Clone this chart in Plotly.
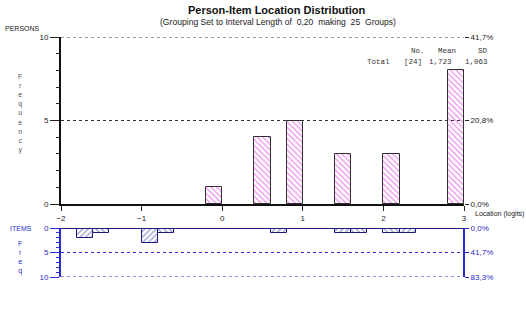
import plotly.graph_objects as go

W, H = 526, 313

# ---------------- data ----------------
person_centers = [-0.1, 0.5, 0.9, 1.5, 2.1, 2.9]
person_counts = [1, 4, 5, 3, 3, 8]

item_centers_a = [-1.7, -0.9, 0.7, 1.5, 2.3]
item_counts_a = [2, 3, 1, 1, 1]
item_centers_b = [-1.5, -0.7, 1.7, 2.1]
item_counts_b = [1, 1, 1, 1]

x_ticks = [-2, -1, 0, 1, 2, 3]
person_pct_vals = [0, 5, 10]
person_pct_text = ["0,0%", "20,8%", "41,7%"]
item_pct_vals = [0, 5, 10]
item_pct_text = ["0,0%", "41,7%", "83,3%"]

stats_header = ["No.", "Mean", "SD"]
stats_row = ["Total", "[24]", "1,723", "1,063"]

bar_width = 0.2


def px(x):
    return x / W


def py(y):
    return 1 - y / H


SANS = "Liberation Sans, Arial"
MONO = "Liberation Mono, Courier New, monospace"
BLUE = "#2a2ad0"
NAVY = "#1a1a80"

fig = go.Figure()

fig.add_trace(go.Bar(
    x=person_centers, y=person_counts, width=bar_width,
    xaxis="x", yaxis="y",
    marker=dict(color="white",
                line=dict(color="#303030", width=1),
                pattern=dict(shape="\\", fgcolor="#e030e0", bgcolor="white",
                             size=4, solidity=0.35)),
    showlegend=False, hoverinfo="skip",
))

fig.add_trace(go.Bar(
    x=item_centers_a, y=item_counts_a, width=bar_width,
    xaxis="x2", yaxis="y2",
    marker=dict(color="white",
                line=dict(color=NAVY, width=1),
                pattern=dict(shape="/", fgcolor="#4040a8", bgcolor="white",
                             size=4, solidity=0.35)),
    showlegend=False, hoverinfo="skip",
))
fig.add_trace(go.Bar(
    x=item_centers_b, y=item_counts_b, width=bar_width,
    xaxis="x2", yaxis="y2",
    marker=dict(color="white",
                line=dict(color=NAVY, width=1),
                pattern=dict(shape="\\", fgcolor="#4040a8", bgcolor="white",
                             size=4, solidity=0.35)),
    showlegend=False, hoverinfo="skip",
))

# invisible carriers so the right-hand percentage axes are drawn
fig.add_trace(go.Scatter(x=[-2], y=[0], xaxis="x", yaxis="y3", mode="markers",
                         marker=dict(opacity=0), showlegend=False, hoverinfo="skip"))
fig.add_trace(go.Scatter(x=[-2], y=[0], xaxis="x2", yaxis="y4", mode="markers",
                         marker=dict(opacity=0), showlegend=False, hoverinfo="skip"))

x_dom = [px(61), px(464)]
y1_dom = [py(204), py(37)]
y2_dom = [py(277), py(228)]

tickfont = dict(family=SANS, size=8, color="#222222")
bluefont = dict(family=SANS, size=8, color=BLUE)

fig.update_layout(
    width=W, height=H,
    margin=dict(l=0, r=0, t=0, b=0, autoexpand=False),
    paper_bgcolor="white", plot_bgcolor="white",
    bargap=0, barmode="overlay",
    xaxis=dict(domain=x_dom, range=[-2, 3], anchor="y", automargin=False,
               tickvals=x_ticks, ticks="outside", ticklen=5, tickcolor="#222",
               showline=True, linecolor="#111", linewidth=2,
               showgrid=False, zeroline=False, tickfont=tickfont),
    yaxis=dict(domain=y1_dom, range=[0, 10], anchor="x", automargin=False,
               tickvals=[0, 5, 10], ticks="outside", ticklen=9, tickcolor="#222",
               minor=dict(dtick=1, ticks="outside", ticklen=3, tickcolor="#222"),
               showline=True, linecolor="#111", linewidth=2,
               showgrid=False, zeroline=False, tickfont=tickfont),
    yaxis3=dict(domain=y1_dom, range=[0, 10], overlaying="y", side="right",
                anchor="free", position=x_dom[1], automargin=False,
                tickvals=person_pct_vals, ticktext=person_pct_text,
                ticks="outside", ticklen=4, tickcolor="#222",
                showline=False, showgrid=False, zeroline=False, tickfont=tickfont),
    xaxis2=dict(domain=x_dom, range=[-2, 3], anchor="y2", matches="x",
                automargin=False,
                showticklabels=False, ticks="", showline=False,
                showgrid=False, zeroline=False),
    yaxis2=dict(domain=y2_dom, range=[10, 0], anchor="x2", automargin=False,
                tickvals=[0, 5, 10], ticks="outside", ticklen=9, tickcolor=BLUE,
                minor=dict(dtick=1, ticks="outside", ticklen=3, tickcolor=BLUE),
                showline=True, linecolor=BLUE, linewidth=2,
                showgrid=False, zeroline=False, tickfont=bluefont),
    yaxis4=dict(domain=y2_dom, range=[10, 0], overlaying="y2", side="right",
                anchor="free", position=x_dom[1], automargin=False,
                tickvals=item_pct_vals, ticktext=item_pct_text,
                ticks="outside", ticklen=4, tickcolor=BLUE,
                showline=True, linecolor=BLUE, linewidth=2,
                showgrid=False, zeroline=False, tickfont=bluefont),
)

# dotted reference lines
for yv in [5, 10]:
    fig.add_shape(type="line", xref="x", yref="y", x0=-2, x1=3, y0=yv, y1=yv,
                  line=dict(color="#333", width=1, dash="dot"))
for yv in [5, 10]:
    fig.add_shape(type="line", xref="x2", yref="y2", x0=-2, x1=3, y0=yv, y1=yv,
                  line=dict(color=BLUE, width=1, dash="dot"))
# top line of items panel
fig.add_shape(type="line", xref="x2", yref="y2", x0=-2, x1=3, y0=0, y1=0,
              line=dict(color=NAVY, width=2))

ann = []


def add_text(x, y, text, size=9, color="#222", family=SANS, xanchor="left",
             yanchor="middle"):
    ann.append(dict(x=px(x), y=py(y), xref="paper", yref="paper", text=text,
                    showarrow=False, xanchor=xanchor, yanchor=yanchor,
                    font=dict(size=size, color=color, family=family)))


add_text(277, 10, "<b>Person-Item Location Distribution</b>", size=11,
         color="#111", xanchor="center")
add_text(278, 22, "(Grouping Set to Interval Length of  0,20  making  25  Groups)",
         size=8.6, color="#222", xanchor="center")
add_text(3, 28, "PERSONS", size=7, color="#222")
add_text(20, 113, "<br>".join(list("Frequency")), size=7, color="#555",
         xanchor="center")
add_text(473, 214, "Location (logits)", size=7, color="#222")
add_text(8, 228, "ITEMS", size=7, color=BLUE)
add_text(20, 257, "<br>".join(list("Freq")), size=7, color=BLUE,
         xanchor="center")

# stats table
hdr_x = [427, 458, 490]
for t, x in zip(stats_header, hdr_x):
    add_text(x, 51, t, size=7.5, family=MONO, color="#333", xanchor="right")
row_x = [392, 424, 454, 490]
for t, x in zip(stats_row, row_x):
    add_text(x, 62, t, size=7.5, family=MONO, color="#333", xanchor="right")

fig.update_layout(annotations=ann)

fig.write_html("out.html",
               config={"displayModeBar": False},
               post_script="document.body.style.margin='0';"
                           "document.body.style.padding='0';")
